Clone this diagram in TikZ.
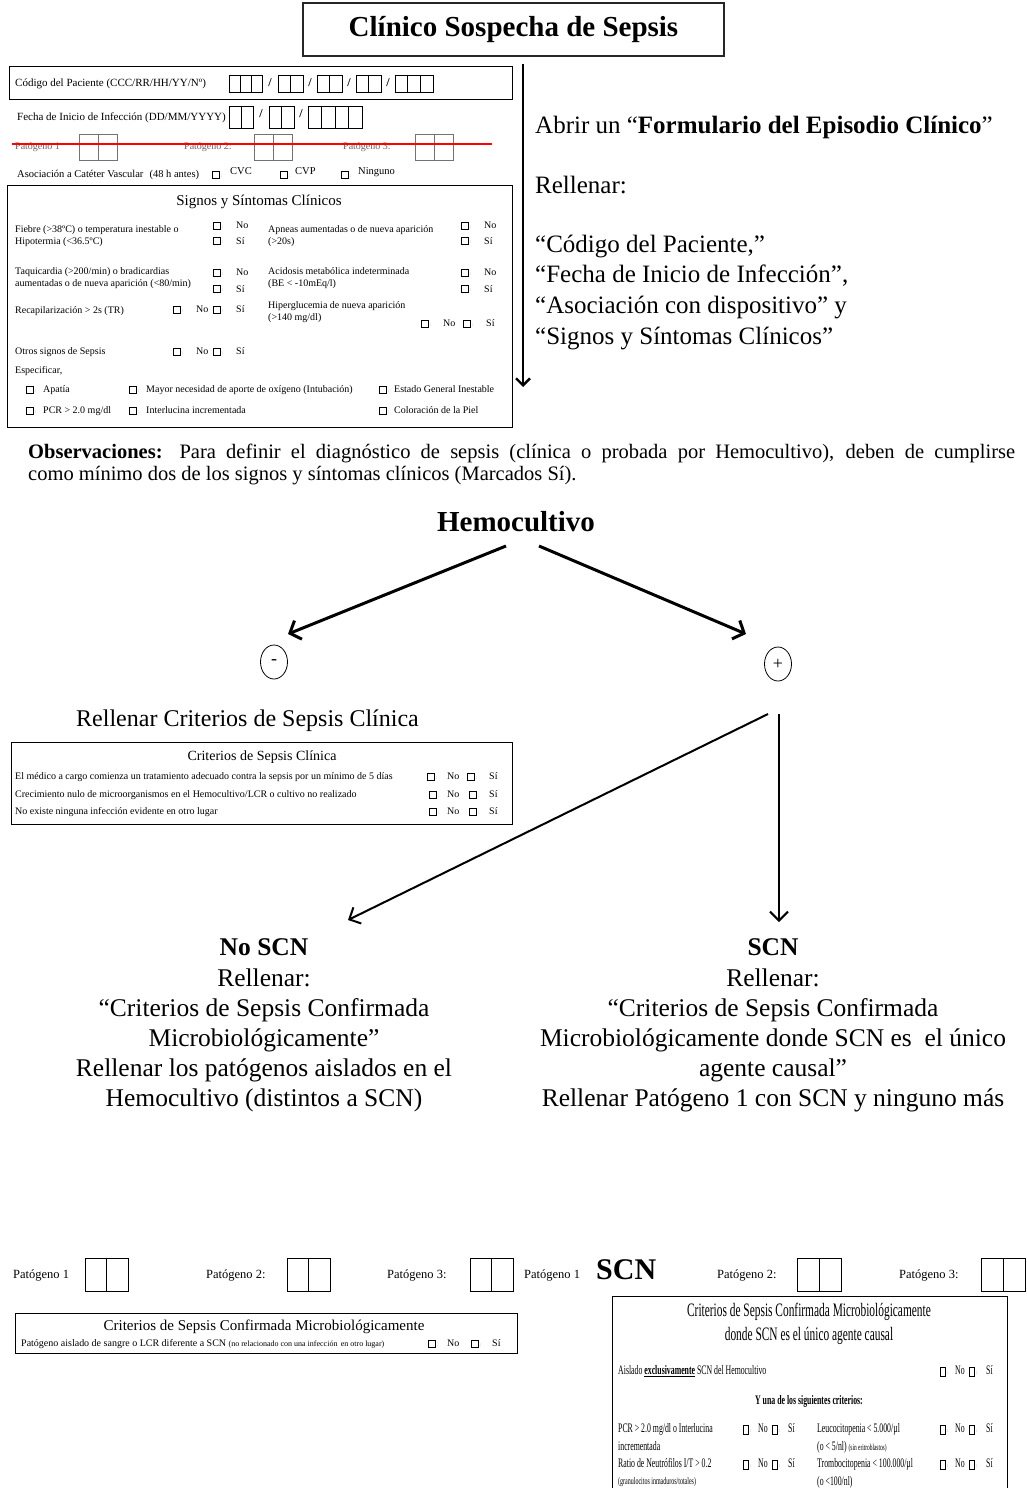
\documentclass[tikz,border=0pt]{standalone}
\usepackage{fontspec}
\setmainfont{Liberation Serif}
\newfontfamily\condf[FakeStretch=0.6]{Liberation Serif}
\usetikzlibrary{arrows.meta,shapes.geometric}
\newcommand\fs[1]{\fontsize{#1}{#1}\selectfont}
\newcommand\cbx[2]{\draw[cbsty] ({#1-3.5},{#2-3.5}) rectangle ++(7,7); \node[colon] at ({#1+4.5},{#2}) {:};}
\newcommand\ccb[2]{\draw[cbsty] ({#1-2.5},{#2-4.5}) rectangle ++(5,9); \node[colon] at ({#1+4},{#2}) {:};}
\newcommand\cells[6]{\foreach \k in {1,...,#3}{\draw[#6] ({#1+(\k-1)*#4},#2) rectangle ++(#4,#5);}}
\begin{document}
\begin{tikzpicture}[x=1pt,y=-1pt,
  txt/.style={inner sep=0pt, anchor=mid west},
  ctxt/.style={inner sep=0pt, anchor=mid},
  frm/.style={draw=black, line width=0.9pt},
  cellsty/.style={draw=black, line width=0.7pt},
  gcell/.style={draw=black!55, line width=0.8pt},
  cbsty/.style={draw=black, line width=0.5pt},
  colon/.style={inner sep=0pt, anchor=mid west, font=\fs{5}, text=black!50},
  arrT/.style={line width=2.4pt, -{Straight Barb[length=7pt,width=14pt]}},
  arrH/.style={line width=3pt, -{Straight Barb[length=9pt,width=20pt]}},
  arrP/.style={line width=2pt, -{Straight Barb[length=9pt,width=18pt]}},
  sign/.style={draw, ellipse, line width=0.8pt, minimum width=27pt, minimum height=34pt, inner sep=0pt, font=\fs{18}},
]
\fill[white] (0,0) rectangle (1027,1488);
\useasboundingbox (0,0) rectangle (1027,1488);

% ---------- title and top arrow ----------
\node[draw=black!85, line width=1.2pt, minimum width=421pt, minimum height=53pt, inner sep=0pt, font=\bfseries\fs{29}] (title) at (513.5,29.5) {Clínico Sospecha de Sepsis};
\coordinate (topE) at (523,387);
\draw[arrT] ([xshift=9.5pt,yshift=-7pt]title.south) -- (topE);

\node[txt, font=\fs{25}] (abrir) at (535,131) {Abrir un “\textbf{Formulario del Episodio Clínico}”};
\node[txt, font=\fs{25}] (rell) at (535,191) {Rellenar:};
\node[txt, font=\fs{25}] (r1) at (535,250) {“Código del Paciente,”};
\node[txt, font=\fs{25}] (r2) at (535,280) {“Fecha de Inicio de Infección”,};
\node[txt, font=\fs{25}] (r3) at (535,311) {“Asociación con dispositivo” y};
\node[txt, font=\fs{25}] (r4) at (535,342) {“Signos y Síntomas Clínicos”};

% ---------- patient code ----------
\draw[frm] (9,66) rectangle (512,99);
\node[txt, font=\fs{11}] (codl) at (15,84) {Código del Paciente (CCC/RR/HH/YY/Nº)};
\cells{229}{75}{3}{11}{17}{cellsty}
\node[ctxt, font=\bfseries\fs{12}] (s1) at (270,84) {/};
\cells{278}{75}{2}{12.5}{17}{cellsty}
\node[ctxt, font=\bfseries\fs{12}] (s2) at (310,84) {/};
\cells{317}{75}{2}{12.5}{17}{cellsty}
\node[ctxt, font=\bfseries\fs{12}] (s3) at (349,84) {/};
\cells{356}{75}{2}{12.5}{17}{cellsty}
\node[ctxt, font=\bfseries\fs{12}] (s4) at (388,84) {/};
\cells{395}{75}{3}{12.67}{17}{cellsty}

% ---------- date ----------
\node[txt, font=\fs{11}] (fecl) at (17,118) {Fecha de Inicio de Infección (DD/MM/YYYY)};
\cells{229}{106}{2}{12}{22}{cellsty}
\node[ctxt, font=\bfseries\fs{12}] (s5) at (261,115) {/};
\cells{269}{106}{2}{12.5}{22}{cellsty}
\node[ctxt, font=\bfseries\fs{12}] (s6) at (301,115) {/};
\cells{308}{106}{4}{13.5}{22}{cellsty}

% ---------- struck pathogen row ----------
\node[txt, font=\fs{10}, text=black!60] (tp1) at (15,147) {Patógeno 1};
\cells{79}{134}{2}{19}{26}{gcell}
\node[txt, font=\fs{10}, text=black!60] (tp2) at (184,147) {Patógeno 2:};
\cells{254}{134}{2}{19}{26}{gcell}
\node[txt, font=\fs{10}, text=black!60] (tp3) at (343,147) {Patógeno 3:};
\cells{415}{134}{2}{19}{26}{gcell}
\draw[red, line width=2pt] (12,144) -- (492,144);

% ---------- catheter ----------
\node[txt, font=\fs{10.5}] (asoc) at (17,175) {Asociación a Catéter Vascular\,\, (48 h antes)};
\cbx{216}{175}
\node[txt, font=\fs{10.5}] (cvc) at (230,172) {CVC};
\cbx{284}{175}
\node[txt, font=\fs{10.5}] (cvp) at (295,172) {CVP};
\cbx{345}{175}
\node[txt, font=\fs{10.5}] (ning) at (358,172) {Ninguno};

% ---------- signs box ----------
\draw[frm] (7,185) rectangle (512,427);
\node[ctxt, font=\fs{15}] (sig) at (259,203) {Signos y Síntomas Clínicos};

\node[txt, font=\fs{10}] (fie1) at (15,230) {Fiebre (>38ºC) o temperatura inestable o};
\node[txt, font=\fs{10}] (fie2) at (15,242) {Hipotermia (<36.5ºC)};
\cbx{217}{226} \node[txt, font=\fs{10}] (fno) at (236,226) {No};
\cbx{217}{241} \node[txt, font=\fs{10}] (fsi) at (236,242) {Sí};
\node[txt, font=\fs{10}] (apn1) at (268,230) {Apneas aumentadas o de nueva aparición};
\node[txt, font=\fs{10}] (apn2) at (268,242) {(>20s)};
\cbx{465}{226} \node[txt, font=\fs{10}] (ano) at (484,226) {No};
\cbx{465}{241} \node[txt, font=\fs{10}] (asi) at (484,242) {Sí};

\node[txt, font=\fs{10}] (taq1) at (15,272) {Taquicardia (>200/min) o bradicardias};
\node[txt, font=\fs{10}] (taq2) at (15,284) {aumentadas o de nueva aparición (<80/min)};
\cbx{217}{273} \node[txt, font=\fs{10}] (tno) at (236,273) {No};
\cbx{217}{289} \node[txt, font=\fs{10}] (tsi) at (236,290) {Sí};
\node[txt, font=\fs{10}] (aci1) at (268,272) {Acidosis metabólica indeterminada};
\node[txt, font=\fs{10}] (aci2) at (268,284) {(BE < -10mEq/l)};
\cbx{465}{273} \node[txt, font=\fs{10}] (acno) at (484,273) {No};
\cbx{465}{289} \node[txt, font=\fs{10}] (acsi) at (484,290) {Sí};

\node[txt, font=\fs{10}] (rec) at (15,311) {Recapilarización > 2s (TR)};
\cbx{177}{310} \node[txt, font=\fs{10}] (rno) at (196,310) {No};
\cbx{217}{310} \node[txt, font=\fs{10}] (rsi) at (236,310) {Sí};
\node[txt, font=\fs{10}] (hip1) at (268,306) {Hiperglucemia de nueva aparición};
\node[txt, font=\fs{10}] (hip2) at (268,318) {(>140 mg/dl)};
\cbx{425}{324} \node[txt, font=\fs{10}] (hno) at (443,324) {No};
\cbx{467}{324} \node[txt, font=\fs{10}] (hsi) at (486,324) {Sí};

\node[txt, font=\fs{10}] (otr) at (15,352) {Otros signos de Sepsis};
\cbx{177}{352} \node[txt, font=\fs{10}] (ono) at (196,352) {No};
\cbx{217}{352} \node[txt, font=\fs{10}] (osi) at (236,352) {Sí};
\node[txt, font=\fs{10}] (esp) at (15,371) {Especificar,};

\cbx{30}{390} \node[txt, font=\fs{10}] (e1) at (43,390) {Apatía};
\cbx{133}{390} \node[txt, font=\fs{10}] (e2) at (146,390) {Mayor necesidad de aporte de oxígeno (Intubación)};
\cbx{383}{390} \node[txt, font=\fs{10}] (e3) at (394,390) {Estado General Inestable};
\cbx{30}{411} \node[txt, font=\fs{10}] (e4) at (43,411) {PCR > 2.0 mg/dl};
\cbx{133}{411} \node[txt, font=\fs{10}] (e5) at (146,411) {Interlucina incrementada};
\cbx{383}{411} \node[txt, font=\fs{10}] (e6) at (394,411) {Coloración de la Piel};

% ---------- observations ----------
\node[anchor=base west, inner sep=0pt, text width=987pt, align=justify, font=\fontsize{20.5}{22.5}\selectfont] (obs) at (28,458)
  {\hyphenpenalty=10000 \textbf{Observaciones:} Para definir el diagnóstico de sepsis (clínica o probada por Hemocultivo), deben de cumplirse\linebreak como mínimo dos de los signos y síntomas clínicos (Marcados Sí).};

% ---------- hemocultivo ----------
\node[ctxt, font=\bfseries\fs{29}] (hemo) at (516,529) {Hemocultivo};
\coordinate (hL) at (506,546);
\coordinate (hR) at (539,546);
\coordinate (negTip) at (288,634);
\coordinate (posTip) at (746,634);
\draw[arrH] (hL) -- (negTip);
\draw[arrH] (hR) -- (posTip);
\node[sign] (neg) at (274,662) {-};
\node[sign] (pos) at (778,664) {+};

\node[txt, font=\fs{24}] (rcsc) at (76,724) {Rellenar Criterios de Sepsis Clínica};

% ---------- criterios clinica ----------
\draw[frm] (11,742) rectangle (512,824);
\node[ctxt, font=\fs{14}] (ccl) at (262,758) {Criterios de Sepsis Clínica};
\node[txt, font=\fs{10}] (c1) at (15,777) {El médico a cargo comienza un tratamiento adecuado contra la sepsis por un mínimo de 5 días};
\cbx{431}{777} \node[txt, font=\fs{10}] (c1n) at (447,777) {No};
\cbx{471}{777} \node[txt, font=\fs{10}] (c1s) at (489,777) {Sí};
\node[txt, font=\fs{10}] (c2) at (15,795) {Crecimiento nulo de microorganismos en el Hemocultivo/LCR o cultivo no realizado};
\cbx{433}{795} \node[txt, font=\fs{10}] (c2n) at (447,795) {No};
\cbx{473}{795} \node[txt, font=\fs{10}] (c2s) at (489,795) {Sí};
\node[txt, font=\fs{10}] (c3) at (15,812) {No existe ninguna infección evidente en otro lugar};
\cbx{433}{812} \node[txt, font=\fs{10}] (c3n) at (447,812) {No};
\cbx{473}{812} \node[txt, font=\fs{10}] (c3s) at (489,812) {Sí};

% ---------- arrows from + ----------
\coordinate (pA) at (768,714);
\coordinate (pB) at (779,714);
\coordinate (tipL) at (348,920);
\coordinate (tipR) at (779,922);
\draw[arrP] (pA) -- (tipL);
\draw[arrP] (pB) -- (tipR);

% ---------- No SCN block ----------
\node[ctxt, font=\bfseries\fs{25.5}] (noscn) at (264,953) {No SCN};
\node[ctxt, font=\fs{25.5}] (n1) at (264,984) {Rellenar:};
\node[ctxt, font=\fs{25.5}] (n2) at (264,1014) {“Criterios de Sepsis Confirmada};
\node[ctxt, font=\fs{25.5}] (n3) at (264,1044) {Microbiológicamente”};
\node[ctxt, font=\fs{25.5}] (n4) at (264,1074) {Rellenar los patógenos aislados en el};
\node[ctxt, font=\fs{25.5}] (n5) at (264,1104) {Hemocultivo (distintos a SCN)};

% ---------- SCN block ----------
\node[ctxt, font=\bfseries\fs{25.5}] (scn) at (773,953) {SCN};
\node[ctxt, font=\fs{25.5}] (m1) at (773,984) {Rellenar:};
\node[ctxt, font=\fs{25.5}] (m2) at (773,1014) {“Criterios de Sepsis Confirmada};
\node[ctxt, font=\fs{25.5}] (m3) at (773,1044) {Microbiológicamente donde SCN es\ \ el único};
\node[ctxt, font=\fs{25.5}] (m4) at (773,1074) {agente causal”};
\node[ctxt, font=\fs{25.5}] (m5) at (773,1104) {Rellenar Patógeno 1 con SCN y ninguno más};

% ---------- bottom pathogen rows ----------
\node[txt, font=\fs{12.5}] (bp1) at (13,1276) {Patógeno 1};
\cells{85}{1258}{2}{21.5}{33}{cellsty}
\node[txt, font=\fs{12.5}] (bp2) at (206,1276) {Patógeno 2:};
\cells{287}{1258}{2}{21.5}{33}{cellsty}
\node[txt, font=\fs{12.5}] (bp3) at (387,1276) {Patógeno 3:};
\cells{470}{1258}{2}{21.5}{33}{cellsty}
\node[txt, font=\fs{12.5}] (bp4) at (524,1276) {Patógeno 1};
\node[txt, font=\bfseries\fs{30}] (scnbig) at (596,1277) {SCN};
\node[txt, font=\fs{12.5}] (bp5) at (717,1276) {Patógeno 2:};
\cells{797}{1258}{2}{22}{33}{cellsty}
\node[txt, font=\fs{12.5}] (bp6) at (899,1276) {Patógeno 3:};
\cells{981}{1258}{2}{22}{33}{cellsty}

% ---------- left bottom box ----------
\draw[frm] (15,1313) rectangle (517,1353);
\node[ctxt, font=\fs{15}] (lcm) at (264,1328) {Criterios de Sepsis Confirmada Microbiológicamente};
\node[txt, font=\fs{10}] (lrow) at (21,1344) {Patógeno aislado de sangre o LCR diferente a SCN {\fs{8}(no relacionado con una infección\, en otro lugar)}};
\cbx{432}{1344} \node[txt, font=\fs{10}] (lno) at (447,1344) {No};
\cbx{475}{1344} \node[txt, font=\fs{10}] (lsi) at (492,1344) {Sí};

% ---------- right bottom box ----------
\draw[frm] (612,1296) rectangle (1007,1500);
\node[ctxt, font=\condf\fs{19}] (rt1) at (809,1314) {Criterios de Sepsis Confirmada Microbiológicamente};
\node[ctxt, font=\condf\fs{19}] (rt2) at (809,1338) {donde SCN es el único agente causal};
\node[txt, font=\condf\fs{13}] (ra) at (618,1372) {Aislado \textbf{\underline{exclusivamente}} SCN del Hemocultivo};
\ccb{943}{1372} \node[txt, font=\condf\fs{13}] (rano) at (955,1372) {No};
\ccb{972}{1372} \node[txt, font=\condf\fs{13}] (rasi) at (986,1372) {Sí};
\node[ctxt, font=\condf\bfseries\fs{13}] (ry) at (809,1402) {Y una de los siguientes criterios:};

\node[txt, font=\condf\fs{13}] (rp1) at (618,1430) {PCR > 2.0 mg/dl o Interlucina};
\node[txt, font=\condf\fs{13}] (rp2) at (618,1448) {incrementada};
\ccb{746}{1430} \node[txt, font=\condf\fs{13}] (rpno) at (758,1430) {No};
\ccb{775}{1430} \node[txt, font=\condf\fs{13}] (rpsi) at (788,1430) {Sí};
\node[txt, font=\condf\fs{13}] (rl1) at (817,1430) {Leucocitopenia < 5.000/µl};
\node[txt, font=\condf\fs{13}] (rl2) at (817,1448) {(o < 5/nl) {\fs{9}(sin eritroblastos)}};
\ccb{943}{1430} \node[txt, font=\condf\fs{13}] (rlno) at (955,1430) {No};
\ccb{972}{1430} \node[txt, font=\condf\fs{13}] (rlsi) at (986,1430) {Sí};

\node[txt, font=\condf\fs{13}] (rr1) at (618,1465) {Ratio de Neutrófilos I/T > 0.2};
\node[txt, font=\condf\fs{10}] (rr2) at (618,1482) {(granulocitos inmaduros/totales)};
\ccb{746}{1465} \node[txt, font=\condf\fs{13}] (rrno) at (758,1465) {No};
\ccb{775}{1465} \node[txt, font=\condf\fs{13}] (rrsi) at (788,1465) {Sí};
\node[txt, font=\condf\fs{13}] (rb1) at (817,1465) {Trombocitopenia < 100.000/µl};
\node[txt, font=\condf\fs{13}] (rb2) at (817,1483) {(o <100/nl)};
\ccb{943}{1465} \node[txt, font=\condf\fs{13}] (rbno) at (955,1465) {No};
\ccb{972}{1465} \node[txt, font=\condf\fs{13}] (rbsi) at (986,1465) {Sí};
\end{tikzpicture}
\end{document}
